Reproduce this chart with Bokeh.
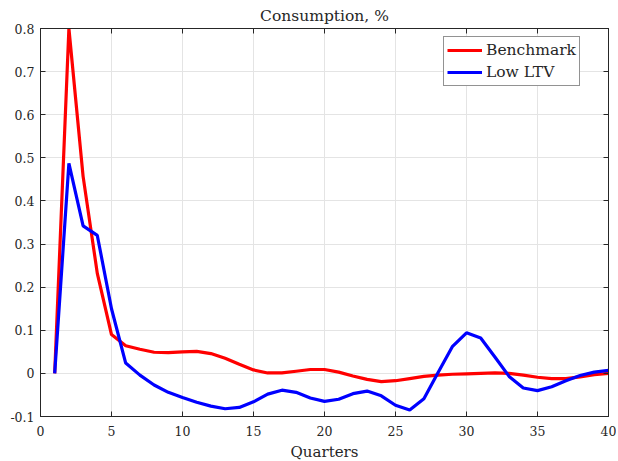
from bokeh.plotting import figure
from bokeh.models import LinearAxis, FixedTicker, Legend, LegendItem
from bokeh.embed import file_html
from bokeh.resources import INLINE

quarters = list(range(1, 41))
benchmark = [0.0, 0.80, 0.457, 0.232, 0.090, 0.064, 0.056, 0.049, 0.048, 0.050,
             0.051, 0.046, 0.035, 0.021, 0.008, 0.001, 0.001, 0.005, 0.009, 0.009,
             0.003, -0.006, -0.014, -0.019, -0.017, -0.012, -0.007, -0.004, -0.002, -0.001,
             0.000, 0.001, 0.000, -0.004, -0.009, -0.012, -0.012, -0.008, -0.003, 0.000]
low_ltv = [0.0, 0.487, 0.342, 0.320, 0.150, 0.024, -0.004, -0.027, -0.044, -0.056,
           -0.067, -0.076, -0.082, -0.079, -0.066, -0.048, -0.039, -0.044, -0.057, -0.065,
           -0.060, -0.047, -0.041, -0.052, -0.074, -0.085, -0.059, 0.002, 0.062, 0.094,
           0.082, 0.038, -0.007, -0.034, -0.040, -0.031, -0.017, -0.005, 0.003, 0.007]

x_ticks = [0, 5, 10, 15, 20, 25, 30, 35, 40]
y_ticks = [-0.1, 0.0, 0.1, 0.2, 0.3, 0.4, 0.5, 0.6, 0.7, 0.8]
y_tick_labels = ["-0.1", "0", "0.1", "0.2", "0.3", "0.4", "0.5", "0.6", "0.7", "0.8"]

FONT = "DejaVu Serif"
TXT = "#262626"
AX = "#262626"

p = figure(frame_width=568, frame_height=388, x_range=(0, 40), y_range=(-0.1, 0.8),
           output_backend="svg", toolbar_location=None,
           min_border_left=40, min_border_right=8, min_border_top=8, min_border_bottom=8,
           title="Consumption, %")
p.title.align = "center"
p.title.text_font = FONT
p.title.text_font_size = "15.5px"
p.title.text_font_style = "normal"
p.title.text_color = TXT
p.title.standoff = 8
p.outline_line_color = AX
p.outline_line_width = 1

for ax in (p.xaxis[0], p.yaxis[0]):
    ax.major_label_text_font = FONT
    ax.major_label_text_font_size = "12.5px"
    ax.major_label_text_color = TXT
    ax.axis_line_color = AX
    ax.major_tick_line_color = AX
    ax.major_tick_in = 5
    ax.major_tick_out = 0
    ax.minor_tick_line_color = None
    ax.major_label_standoff = 6
p.xaxis[0].major_label_standoff = 9

p.xaxis[0].ticker = FixedTicker(ticks=x_ticks)
p.yaxis[0].ticker = FixedTicker(ticks=y_ticks)
p.yaxis[0].major_label_overrides = {t: l for t, l in zip(y_ticks, y_tick_labels)}
p.xaxis[0].axis_label = "Quarters"
p.xaxis[0].axis_label_text_font = FONT
p.xaxis[0].axis_label_text_font_size = "15px"
p.xaxis[0].axis_label_text_font_style = "normal"
p.xaxis[0].axis_label_text_color = TXT
p.xaxis[0].axis_label_standoff = 4

top = LinearAxis(ticker=FixedTicker(ticks=x_ticks))
right = LinearAxis(ticker=FixedTicker(ticks=y_ticks))
top.major_label_overrides = {t: "" for t in x_ticks}
right.major_label_overrides = {t: "" for t in y_ticks}
for ax in (top, right):
    ax.major_label_standoff = 0
    ax.axis_line_color = AX
    ax.major_tick_line_color = AX
    ax.major_tick_in = 5
    ax.major_tick_out = 0
    ax.minor_tick_line_color = None
p.add_layout(top, "above")
p.add_layout(right, "right")

p.grid.grid_line_color = "#e4e4e4"
p.grid.grid_line_width = 1
p.xgrid.ticker = FixedTicker(ticks=x_ticks)
p.ygrid.ticker = FixedTicker(ticks=y_ticks)

r1 = p.line(quarters, benchmark, line_color="#ff0000", line_width=3.2)
r2 = p.line(quarters, low_ltv, line_color="#0000ff", line_width=3.2)

legend = Legend(items=[LegendItem(label="Benchmark", renderers=[r1]),
                       LegendItem(label="Low LTV", renderers=[r2])],
                location=(403, 330))
legend.label_text_font = FONT
legend.label_text_font_size = "15.5px"
legend.label_text_color = TXT
legend.border_line_color = "#262626"
legend.border_line_width = 1
legend.background_fill_color = "white"
legend.background_fill_alpha = 1
legend.glyph_width = 35
legend.glyph_height = 20
legend.label_height = 20
legend.label_standoff = 4
legend.padding = 3
legend.spacing = 2
legend.margin = 0
p.add_layout(legend, "center")

open("out.html", "w").write(file_html(p, INLINE))
